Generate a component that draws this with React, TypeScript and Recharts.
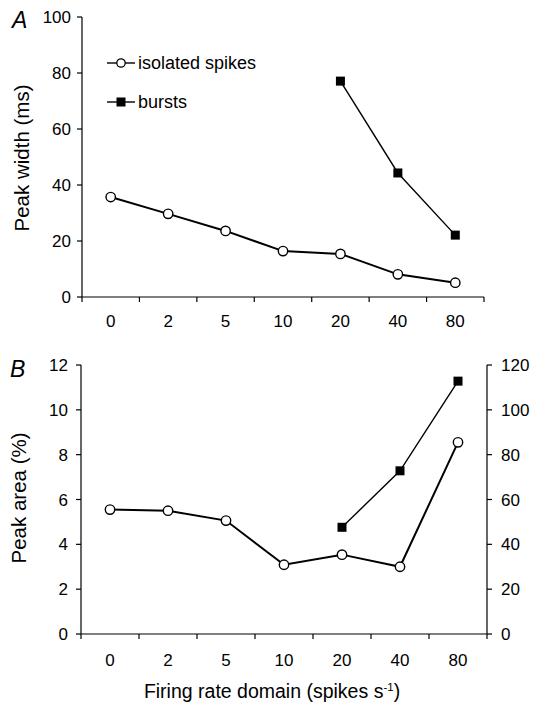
import { LineChart, Line, XAxis, YAxis } from 'recharts'

const categories = ['0', '2', '5', '10', '20', '40', '80']
const widthIsolated = [35.7, 29.7, 23.6, 16.4, 15.4, 8.1, 5.1]
const widthBursts = [null, null, null, null, 77.1, 44.3, 22.1]
const areaIsolated = [5.55, 5.5, 5.06, 3.09, 3.54, 3.0, 8.55]
const areaBursts = [null, null, null, null, 47.6, 72.8, 112.8]
const widthTicks = [0, 20, 40, 60, 80, 100]
const areaTicks = [0, 2, 4, 6, 8, 10, 12]
const areaBurstTicks = [0, 20, 40, 60, 80, 100, 120]

const FONT = '"Liberation Sans", Arial, Helvetica, sans-serif'

const widthData = categories.map((c, i) => ({
  i,
  label: c,
  isolated: widthIsolated[i],
  bursts: widthBursts[i],
}))

const areaData = categories.map((c, i) => ({
  i,
  label: c,
  isolated: areaIsolated[i],
  bursts: areaBursts[i],
}))

// ticks at band edges (x.5), labels at band centres (integers)
const xTicks = [-0.5, ...categories.flatMap((_, i) => [i, i + 0.5])]

function makeXTick(labelOffset: number) {
  return (props: any) => {
    const { x, y, payload } = props
    const v = payload.value
    if (Number.isInteger(v)) {
      return (
        <text x={x} y={y + labelOffset} textAnchor="middle" fontSize={17} fill="#000" fontFamily={FONT}>
          {categories[v]}
        </text>
      )
    }
    return <line x1={x} x2={x} y1={y} y2={y + 5} stroke="#000" strokeWidth={1.2} />
  }
}

const OpenDot = (props: any) => {
  const { cx, cy, index } = props
  if (cx == null || cy == null) return <g key={index} />
  return <circle key={index} cx={cx} cy={cy} r={4.7} fill="#fff" stroke="#000" strokeWidth={1.4} />
}

const SquareDot = (props: any) => {
  const { cx, cy, index, value } = props
  if (cx == null || cy == null || value == null) return <g key={index} />
  return <rect key={index} x={cx - 4.5} y={cy - 4.5} width={9} height={9} fill="#000" />
}

const tickStyle = { fontSize: 17, fill: '#000', fontFamily: FONT }
const axisStyle = { stroke: '#000', strokeWidth: 1.2 }

export default function App() {
  return (
    <div
      style={{
        position: 'absolute',
        left: 0,
        top: 0,
        width: 539,
        height: 713,
        background: '#fff',
        fontFamily: FONT,
      }}
    >
      <LineChart width={539} height={340} data={widthData} margin={{ top: 17, right: 55, bottom: 13, left: 32 }}>
        <XAxis
          type="number"
          dataKey="i"
          domain={[-0.5, 6.5]}
          ticks={xTicks}
          interval={0}
          height={30}
          tickSize={0}
          tickMargin={0}
          tickLine={false}
          axisLine={axisStyle}
          tick={makeXTick(30)}
        />
        <YAxis
          domain={[0, 100]}
          ticks={widthTicks}
          width={50}
          tickSize={5}
          tickMargin={6}
          tick={tickStyle}
          tickLine={axisStyle}
          axisLine={axisStyle}
        />
        <Line
          dataKey="isolated"
          stroke="#000"
          strokeWidth={2}
          dot={<OpenDot />}
          activeDot={false}
          isAnimationActive={false}
        />
        <Line
          dataKey="bursts"
          stroke="#000"
          strokeWidth={1.4}
          dot={<SquareDot />}
          activeDot={false}
          isAnimationActive={false}
        />
        <text x={12} y={28} fontSize={23} fontStyle="italic" fontFamily={FONT} fill="#000">A</text>
        <text
          x={29}
          y={158}
          transform="rotate(-90 29 158)"
          textAnchor="middle"
          fontSize={20.5}
          fontFamily={FONT}
          fill="#000"
        >
          Peak width (ms)
        </text>
        <g>
          <line x1={107} x2={135} y1={63} y2={63} stroke="#000" strokeWidth={1.4} />
          <circle cx={121} cy={63} r={4.2} fill="#fff" stroke="#000" strokeWidth={1.3} />
          <text x={138} y={69} fontSize={18} fontFamily={FONT} fill="#000">isolated spikes</text>
          <line x1={107} x2={135} y1={102} y2={102} stroke="#000" strokeWidth={1.4} />
          <rect x={116.5} y={97.5} width={9} height={9} fill="#000" />
          <text x={138} y={108} fontSize={18} fontFamily={FONT} fill="#000">bursts</text>
        </g>
      </LineChart>

      <LineChart width={539} height={373} data={areaData} margin={{ top: 25, right: 2, bottom: 49, left: 31 }}>
        <XAxis
          type="number"
          dataKey="i"
          domain={[-0.5, 6.5]}
          ticks={xTicks}
          interval={0}
          height={30}
          tickSize={0}
          tickMargin={0}
          tickLine={false}
          axisLine={axisStyle}
          tick={makeXTick(32)}
        />
        <YAxis
          yAxisId="left"
          domain={[0, 12]}
          ticks={areaTicks}
          width={50}
          tickSize={5}
          tickMargin={8}
          tick={tickStyle}
          tickLine={axisStyle}
          axisLine={axisStyle}
        />
        <YAxis
          yAxisId="right"
          orientation="right"
          domain={[0, 120]}
          ticks={areaBurstTicks}
          width={50}
          tickSize={5}
          tickMargin={9}
          tick={tickStyle}
          tickLine={axisStyle}
          axisLine={axisStyle}
        />
        <Line
          yAxisId="left"
          dataKey="isolated"
          stroke="#000"
          strokeWidth={2}
          dot={<OpenDot />}
          activeDot={false}
          isAnimationActive={false}
        />
        <Line
          yAxisId="right"
          dataKey="bursts"
          stroke="#000"
          strokeWidth={1.4}
          dot={<SquareDot />}
          activeDot={false}
          isAnimationActive={false}
        />
        <text x={10} y={37} fontSize={23} fontStyle="italic" fontFamily={FONT} fill="#000">B</text>
        <text
          x={26}
          y={158}
          transform="rotate(-90 26 158)"
          textAnchor="middle"
          fontSize={20.5}
          fontFamily={FONT}
          fill="#000"
        >
          Peak area (%)
        </text>
        <text x={272} y={358} textAnchor="middle" fontSize={19.5} fontFamily={FONT} fill="#000">
          Firing rate domain (spikes s
          <tspan dy={-7} fontSize={11.5}>-1</tspan>
          <tspan dy={7}>)</tspan>
        </text>
      </LineChart>
    </div>
  )
}
